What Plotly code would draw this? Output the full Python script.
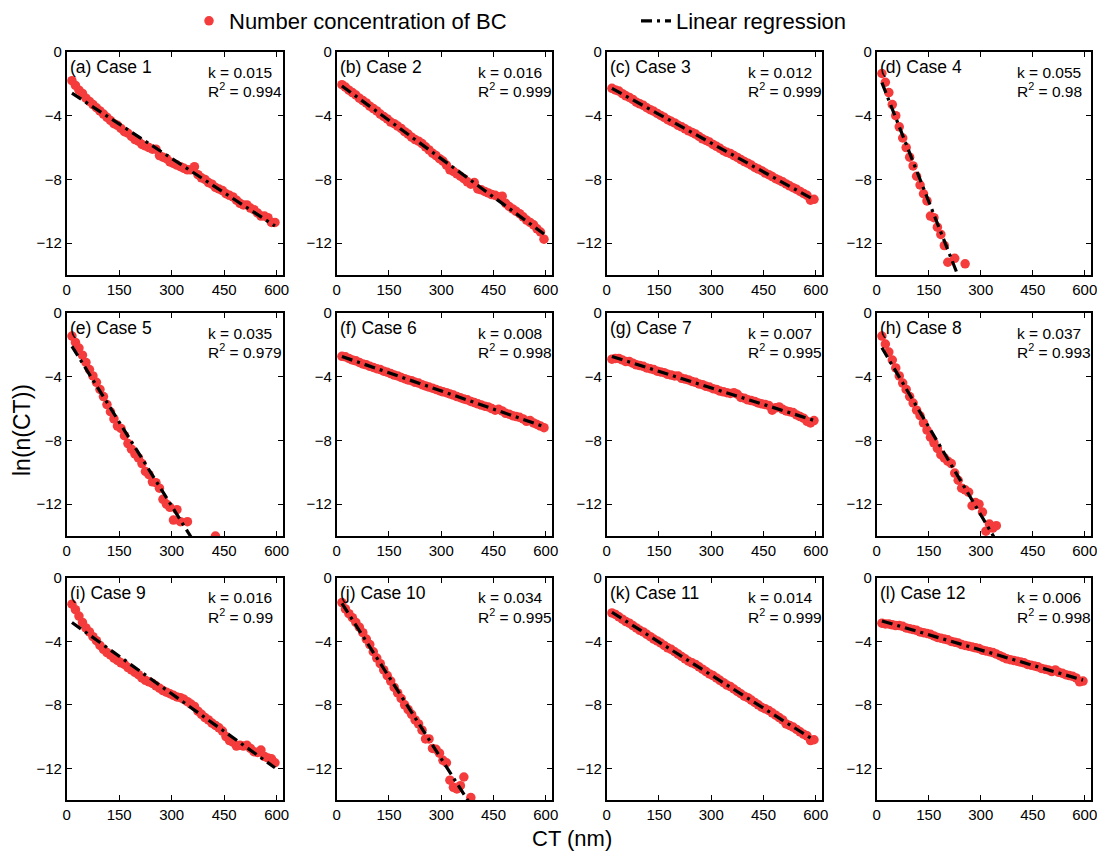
import numpy as np
import plotly.graph_objects as go

# ---------------- data ----------------
ct_full = [15, 25, 35, 45, 55, 65, 75, 85, 95, 105, 115, 125, 135, 145, 155, 165, 175, 185, 195, 205,
           215, 225, 235, 245, 255, 265, 275, 285, 295, 305, 315, 325, 335, 345, 355, 365, 375, 385, 395, 405,
           415, 425, 435, 445, 455, 465, 475, 485, 495, 505, 515, 525, 535, 545, 555, 565, 575, 585, 595]

case1_y = [-1.8, -2.1, -2.4, -2.6, -2.9, -3.1, -3.3, -3.5, -3.7, -3.9, -4.1, -4.3, -4.5, -4.6, -4.8, -5.0, -5.1, -5.3, -5.5, -5.6,
           -5.8, -5.9, -6.0, -6.1, -6.1, -6.5, -6.6, -6.7, -6.9, -7.0, -7.1, -7.2, -7.3, -7.4, -7.4, -7.2, -7.7, -7.9, -8.0, -8.2,
           -8.3, -8.5, -8.6, -8.7, -8.9, -9.0, -9.1, -9.3, -9.5, -9.6, -9.6, -9.8, -9.9, -10.1, -10.3, -10.3, -10.4, -10.7, -10.7]

case2_y = [-2.05, -2.2, -2.4, -2.55, -2.7, -2.9, -3.05, -3.2, -3.4, -3.55, -3.7, -3.9, -4.05, -4.2, -4.4, -4.5, -4.65, -4.8, -5.0, -5.15,
           -5.35, -5.5, -5.6, -5.75, -5.95, -6.15, -6.35, -6.5, -6.7, -6.85, -7.1, -7.4, -7.5, -7.65, -7.8, -7.95, -8.15, -8.3, -8.2, -8.6,
           -8.65, -8.75, -8.85, -8.95, -9.0, -9.1, -9.05, -9.5, -9.7, -9.85, -10.0, -10.15, -10.35, -10.55, -10.7, -10.85, -11.1, -11.3, -11.75]

case3_y = [-2.28, -2.38, -2.45, -2.62, -2.75, -2.85, -2.98, -3.15, -3.25, -3.35, -3.5, -3.62, -3.72, -3.86, -3.98, -4.1, -4.25, -4.35, -4.45, -4.6,
           -4.7, -4.82, -4.95, -5.05, -5.15, -5.3, -5.45, -5.55, -5.65, -5.8, -5.92, -6.05, -6.2, -6.3, -6.38, -6.5, -6.62, -6.75, -6.88, -6.98,
           -7.1, -7.25, -7.35, -7.45, -7.6, -7.7, -7.82, -7.95, -8.05, -8.15, -8.28, -8.4, -8.52, -8.62, -8.75, -8.88, -9.0, -9.3, -9.25]

case4_x = [15, 25, 35, 45, 55, 65, 75, 85, 95, 105, 115, 125, 135, 145, 155, 165, 175, 185, 195, 205, 225, 255]
case4_y = [-1.35, -1.9, -2.55, -3.3, -4.0, -4.7, -5.4, -6.0, -6.6, -7.15, -7.8, -8.35, -8.9, -9.35, -10.3, -10.4, -11.0, -11.45,
           -12.15, -13.2, -12.95, -13.3]

case5_x = [15, 25, 35, 45, 55, 65, 75, 85, 95, 105, 115, 125, 135, 145, 155, 165, 175, 185, 195, 205,
           215, 225, 235, 245, 255, 265, 275, 285, 295, 305, 315, 325, 345, 425]
case5_y = [-1.45, -1.85, -2.2, -2.65, -3.1, -3.55, -3.95, -4.35, -4.8, -5.25, -5.75, -6.2, -6.65, -7.1, -7.25, -7.7, -8.2, -8.55,
           -8.85, -9.1, -9.45, -9.95, -10.15, -10.6, -10.65, -11.0, -11.7, -12.0, -12.2, -13.0, -12.35, -13.1, -13.1, -14.0]

case6_y = [-2.72, -2.75, -2.85, -2.95, -3.0, -3.1, -3.2, -3.25, -3.35, -3.42, -3.5, -3.55, -3.65, -3.72, -3.8, -3.9, -3.95, -4.05, -4.12, -4.2,
           -4.25, -4.35, -4.4, -4.5, -4.58, -4.65, -4.72, -4.8, -4.88, -4.95, -5.0, -5.08, -5.15, -5.25, -5.32, -5.4, -5.45, -5.55, -5.62, -5.7,
           -5.78, -5.85, -5.9, -6.0, -6.1, -6.05, -6.15, -6.3, -6.35, -6.45, -6.5, -6.55, -6.65, -6.8, -6.75, -6.9, -7.0, -7.1, -7.2]

case7_y = [-2.9, -2.85, -2.85, -2.95, -3.05, -3.05, -3.15, -3.25, -3.3, -3.35, -3.45, -3.5, -3.55, -3.65, -3.7, -3.75, -3.85, -3.9, -3.95, -3.95,
           -4.1, -4.15, -4.2, -4.3, -4.35, -4.45, -4.5, -4.6, -4.65, -4.75, -4.8, -4.9, -4.95, -5.0, -5.05, -5.0, -5.1, -5.3, -5.35, -5.45,
           -5.5, -5.55, -5.65, -5.7, -5.75, -5.8, -6.1, -5.95, -5.9, -6.05, -6.15, -6.2, -6.25, -6.4, -6.5, -6.6, -6.8, -6.9, -6.75]

case8_x = [15, 25, 35, 45, 55, 65, 75, 85, 95, 105, 115, 125, 135, 145, 155, 165, 175, 185, 195, 205,
           215, 225, 235, 245, 255, 265, 275, 285, 295, 305, 315, 325, 335, 345]
case8_y = [-1.45, -1.95, -2.45, -2.95, -3.45, -3.95, -4.4, -4.8, -5.25, -5.65, -6.1, -6.45, -6.9, -7.35, -7.8, -8.15, -8.5, -8.9,
           -9.1, -9.3, -9.45, -10.05, -10.5, -11.0, -11.1, -11.25, -12.1, -11.9, -12.0, -12.5, -13.7, -13.25, -13.5, -13.35]

case9_y = [-1.65, -2.0, -2.4, -2.8, -3.15, -3.4, -3.7, -3.95, -4.25, -4.5, -4.7, -4.85, -5.05, -5.2, -5.35, -5.45, -5.65, -5.8, -5.95, -6.1,
           -6.3, -6.45, -6.55, -6.65, -6.8, -6.95, -7.1, -7.2, -7.3, -7.4, -7.5, -7.55, -7.65, -7.8, -7.95, -8.1, -8.4, -8.6, -8.8, -8.95,
           -9.15, -9.3, -9.45, -9.65, -10.0, -10.25, -10.35, -10.6, -10.55, -10.6, -10.55, -10.75, -10.95, -11.0, -10.85, -11.25, -11.35, -11.4, -11.65]

case10_x = [15, 25, 35, 45, 55, 65, 75, 85, 95, 105, 115, 125, 135, 145, 155, 165, 175, 185, 195, 205,
            215, 225, 235, 245, 255, 265, 275, 285, 295, 305, 315, 325, 335, 345, 355, 365, 385]
case10_y = [-1.55, -1.95, -2.25, -2.5, -2.8, -3.1, -3.45, -3.85, -4.2, -4.65, -5.05, -5.4, -5.8, -6.15, -6.5, -6.9, -7.25, -7.6,
            -8.0, -8.3, -8.6, -8.95, -9.2, -9.6, -10.15, -10.15, -10.75, -10.8, -11.05, -11.5, -11.65, -12.75, -13.2, -13.3,
            -13.1, -12.55, -13.85]

case11_y = [-2.2, -2.3, -2.45, -2.6, -2.75, -2.85, -3.0, -3.15, -3.3, -3.4, -3.55, -3.7, -3.85, -3.97, -4.1, -4.25, -4.4, -4.5, -4.65, -4.8,
            -4.95, -5.1, -5.25, -5.35, -5.45, -5.6, -5.75, -5.9, -6.05, -6.15, -6.3, -6.45, -6.6, -6.75, -6.85, -7.0, -7.15, -7.3, -7.45, -7.55,
            -7.7, -7.85, -8.0, -8.15, -8.25, -8.35, -8.5, -8.65, -8.8, -8.95, -9.2, -9.3, -9.4, -9.55, -9.7, -9.85, -9.95, -10.25, -10.2]

case12_y = [-2.85, -2.9, -2.9, -2.95, -3.0, -3.0, -3.05, -3.15, -3.2, -3.25, -3.3, -3.4, -3.45, -3.5, -3.55, -3.65, -3.75, -3.8, -3.85, -3.9,
            -4.0, -4.05, -4.1, -4.2, -4.25, -4.3, -4.35, -4.4, -4.45, -4.55, -4.6, -4.65, -4.7, -4.8, -4.9, -5.0, -5.1, -5.15, -5.2, -5.25,
            -5.3, -5.35, -5.45, -5.5, -5.55, -5.6, -5.7, -5.75, -5.8, -5.9, -5.8, -5.95, -6.0, -6.1, -6.15, -6.2, -6.3, -6.55, -6.5]

panel_labels = ["(a) Case 1", "(b) Case 2", "(c) Case 3", "(d) Case 4", "(e) Case 5", "(f) Case 6",
                "(g) Case 7", "(h) Case 8", "(i) Case 9", "(j) Case 10", "(k) Case 11", "(l) Case 12"]
k_labels = ["0.015", "0.016", "0.012", "0.055", "0.035", "0.008", "0.007", "0.037", "0.016", "0.034", "0.014", "0.006"]
r2_labels = ["0.994", "0.999", "0.999", "0.98", "0.979", "0.998", "0.995", "0.993", "0.99", "0.995", "0.999", "0.998"]

x_ticks = [0, 150, 300, 450, 600]
y_ticks = [0, -4, -8, -12]

panels_x = [ct_full, ct_full, ct_full, case4_x, case5_x, ct_full, ct_full, case8_x, ct_full, case10_x, ct_full, ct_full]
panels_y = [case1_y, case2_y, case3_y, case4_y, case5_y, case6_y, case7_y, case8_y, case9_y, case10_y, case11_y, case12_y]

# ---------------- layout geometry ----------------
# page body has an 8px margin, so the figure is placed at (8, 8) in the window
OFF = 8
W, H = 1105 - 2 * OFF, 861 - 2 * OFF
col_px = [(66.7, 283), (336.7, 552), (606.7, 822), (876.7, 1091)]
row_px = [(52, 275), (313, 536), (578, 800)]


def px_x(px):
    return (px - OFF) / W


def px_y(py):
    return 1 - (py - OFF) / H


FONT = "Arial, Liberation Sans, Helvetica, sans-serif"
RED = "#f53c3c"

fig = go.Figure()
annotations = []

for i in range(12):
    r, c = divmod(i, 4)
    n = i + 1
    xa = "x" if n == 1 else f"x{n}"
    ya = "y" if n == 1 else f"y{n}"
    xs = np.array(panels_x[i], dtype=float)
    ys = np.array(panels_y[i], dtype=float)
    slope, icpt = np.polyfit(xs, ys, 1)
    xl = np.array([xs.min(), xs.max()])
    yl = slope * xl + icpt

    fig.add_trace(go.Scatter(
        x=xs, y=ys, mode="markers", xaxis=xa, yaxis=ya,
        marker=dict(color=RED, size=9.5, line=dict(width=0)),
        name="Number concentration of BC", legendgroup="pts", showlegend=(i == 0),
    ))
    fig.add_trace(go.Scatter(
        x=xl, y=yl, mode="lines", xaxis=xa, yaxis=ya,
        line=dict(color="black", width=3.2, dash="11px,5px,3px,5px"),
        name="Linear regression", legendgroup="fit", showlegend=(i == 0),
    ))

    x0, x1 = col_px[c]
    y0, y1 = row_px[r]
    axis_common = dict(showline=True, linecolor="black", linewidth=1.6, mirror="allticks",
                       ticks="inside", ticklen=5, tickwidth=1, tickcolor="black",
                       showgrid=False, zeroline=False, automargin=False,
                       ticklabeloverflow="allow",
                       tickfont=dict(family=FONT, size=15, color="black"))
    fig.layout[("xaxis" if n == 1 else f"xaxis{n}")] = dict(
        domain=[px_x(x0), px_x(x1)], anchor=ya, range=[0, 618], tickvals=x_ticks, **axis_common)
    fig.layout[("yaxis" if n == 1 else f"yaxis{n}")] = dict(
        domain=[px_y(y1), px_y(y0)], anchor=xa, range=[-14, 0], tickvals=y_ticks, **axis_common)

    annotations.append(dict(xref=f"{xa} domain", yref=f"{ya} domain", x=0.005, y=0.933,
                            xanchor="left", yanchor="middle", showarrow=False, text=panel_labels[i],
                            font=dict(family=FONT, size=17.5, color="black")))
    annotations.append(dict(xref=f"{xa} domain", yref=f"{ya} domain", x=0.645, y=0.91,
                            xanchor="left", yanchor="middle", showarrow=False, text="k = " + k_labels[i],
                            font=dict(family=FONT, size=15.5, color="black")))
    annotations.append(dict(xref=f"{xa} domain", yref=f"{ya} domain", x=0.645, y=0.83,
                            xanchor="left", yanchor="middle", showarrow=False,
                            text="R<sup>2</sup> = " + r2_labels[i],
                            font=dict(family=FONT, size=15.5, color="black")))

annotations.append(dict(xref="paper", yref="paper", x=px_x(22), y=px_y(430), textangle=-90,
                        xanchor="center", yanchor="middle", showarrow=False, text="ln(n(CT))",
                        font=dict(family=FONT, size=23, color="black")))
annotations.append(dict(xref="paper", yref="paper", x=px_x(572), y=0,
                        xanchor="center", yanchor="bottom", showarrow=False, text="CT (nm)",
                        font=dict(family=FONT, size=22, color="black")))

fig.update_layout(
    width=W, height=H,
    margin=dict(l=0, r=0, t=0, b=0, autoexpand=False),
    paper_bgcolor="white", plot_bgcolor="white",
    annotations=annotations,
    showlegend=True,
    legend=dict(orientation="h", x=px_x(189), y=px_y(21), xanchor="left", yanchor="middle",
                font=dict(family=FONT, size=22, color="black"),
                entrywidth=402, entrywidthmode="pixels", bgcolor="rgba(0,0,0,0)"),
)

fig.write_html("out.html")
